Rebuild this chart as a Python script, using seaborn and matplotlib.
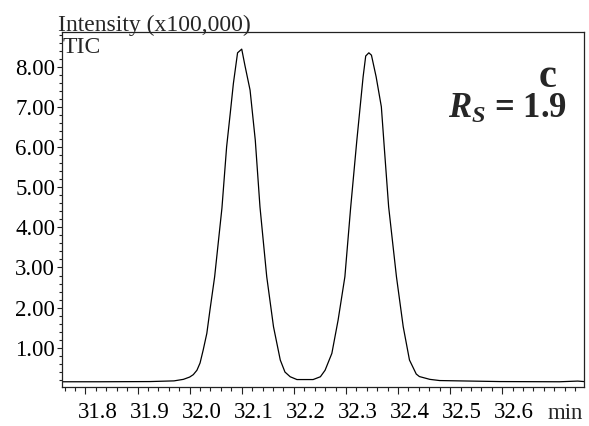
import matplotlib
matplotlib.use('Agg')
import matplotlib.pyplot as plt
import matplotlib.transforms as mtransforms
import seaborn as sns
import pandas as pd
from matplotlib.ticker import MultipleLocator, FixedLocator

sns.set_theme(style='ticks')
plt.rcParams['font.family'] = ['Liberation Serif', 'DejaVu Serif']
plt.rcParams['mathtext.fontset'] = 'custom'
plt.rcParams['mathtext.rm'] = 'Liberation Serif:bold'
plt.rcParams['mathtext.it'] = 'Liberation Serif:italic:bold'

# retention time (min) and TIC intensity (x100,000)
time = [31.755, 31.828, 31.924, 31.970, 31.988, 32.000, 32.007, 32.014, 32.020,
        32.026, 32.033, 32.039, 32.048, 32.062, 32.071, 32.078, 32.084, 32.092,
        32.100, 32.106, 32.116, 32.126, 32.135, 32.148, 32.161, 32.174, 32.183,
        32.193, 32.206, 32.237, 32.251, 32.260, 32.273, 32.285, 32.298, 32.309,
        32.321, 32.333, 32.338, 32.344, 32.349, 32.358, 32.368, 32.374, 32.382,
        32.397, 32.410, 32.422, 32.435, 32.441, 32.461, 32.480, 32.595, 32.710,
        32.745, 32.757]
intensity = [0.153, 0.153, 0.158, 0.175, 0.213, 0.270, 0.330, 0.440, 0.620,
             0.943, 1.359, 1.939, 2.769, 4.480, 6.007, 6.847, 7.587, 8.349,
             8.441, 8.043, 7.420, 6.174, 4.513, 2.769, 1.523, 0.694, 0.395,
             0.278, 0.208, 0.208, 0.278, 0.440, 0.860, 1.690, 2.769, 4.480,
             6.174, 7.751, 8.270, 8.349, 8.290, 7.751, 7.004, 5.925, 4.513,
             2.769, 1.523, 0.694, 0.345, 0.283, 0.213, 0.183, 0.158, 0.153,
             0.170, 0.158]

x_ticks = [31.8, 31.9, 32.0, 32.1, 32.2, 32.3, 32.4, 32.5, 32.6]
y_ticks = [1.0, 2.0, 3.0, 4.0, 5.0, 6.0, 7.0, 8.0]

df = pd.DataFrame({'time': time, 'intensity': intensity})

fig = plt.figure(figsize=(5.89, 4.26), dpi=100)
ax = fig.add_axes([62 / 589, 1 - 386.7 / 426, (584 - 62) / 589, (386.7 - 31.5) / 426])
sns.lineplot(x='time', y='intensity', data=df, color='black', linewidth=0.9, ax=ax)

ax.set_xlim(31.755, 32.757)
ax.set_ylim(0.03, 8.88)
ax.xaxis.set_major_locator(FixedLocator(x_ticks))
ax.xaxis.set_minor_locator(MultipleLocator(0.02))
ax.yaxis.set_major_locator(FixedLocator(y_ticks))
ax.yaxis.set_minor_locator(MultipleLocator(0.2))
ax.set_xticklabels(['{:.1f}'.format(t) for t in x_ticks])
ax.set_yticklabels(['{:.2f}'.format(t) for t in y_ticks])
ax.set_xlabel('')
ax.set_ylabel('')

c = '#222222'
for s in ax.spines.values():
    s.set_color(c)
    s.set_linewidth(0.9)
ax.tick_params(axis='both', which='major', labelsize=16.5, colors=c, labelcolor='black', width=0.8)
ax.tick_params(axis='x', which='major', length=5, pad=6)
ax.tick_params(axis='x', which='minor', length=3, width=0.8, colors=c)
ax.tick_params(axis='y', which='major', length=3.5, pad=1.5)
ax.tick_params(axis='y', which='minor', length=2, width=0.8, colors=c)

# instrument software draws the x labels a little right of their ticks
shift = mtransforms.ScaledTranslation(12 / 100, 0, fig.dpi_scale_trans)
for lab in ax.get_xticklabels():
    lab.set_transform(lab.get_transform() + shift)

fig.text(565 / 589, 1 - 403 / 426, 'min', fontsize=16.5, ha='center', va='top')
fig.text(58 / 589, 1 - 31 / 426, 'Intensity (x100,000)', fontsize=17, ha='left', va='baseline')
fig.text(62.5 / 589, 1 - 37 / 426, 'TIC', fontsize=17, ha='left', va='top')
fig.text(548 / 589, 1 - 87 / 426, 'c', fontsize=29, fontweight='bold', ha='center', va='baseline')
fig.text(567 / 589, 1 - 118 / 426, '$R_S$ = 1.9', fontsize=25, fontweight='bold', ha='right', va='baseline')

fig.savefig('out.png', dpi=100)
